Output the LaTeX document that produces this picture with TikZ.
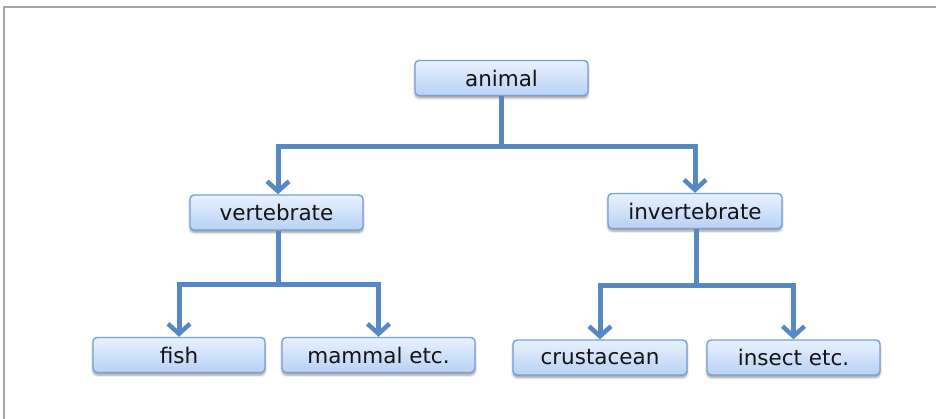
\documentclass[tikz,border=0pt]{standalone}
\usepackage{fontspec}
\setmainfont{DejaVu Sans}
\usetikzlibrary{arrows.meta,shadows.blur}
\definecolor{boxtop}{RGB}{232,242,254}
\definecolor{boxbot}{RGB}{184,209,244}
\definecolor{boxedge}{RGB}{118,160,216}
\definecolor{linkblue}{RGB}{86,137,196}
\definecolor{framegray}{RGB}{165,165,165}
\definecolor{labelink}{RGB}{20,20,20}
\tikzset{
  catbox/.style={rounded corners=4pt, draw=boxedge, line width=1.4pt,
    top color=boxtop, bottom color=boxbot, inner sep=0pt,
    minimum height=35pt, text=labelink,
    font=\fontsize{21.5}{26}\selectfont,
    blur shadow={shadow xshift=0pt, shadow yshift=-2.5pt, shadow blur steps=6, shadow opacity=40}},
  link/.style={draw=linkblue, line width=5pt},
  arrowlink/.style={link, -{Straight Barb[length=10pt,width=22pt,line width=4.5pt]}}
}
\begin{document}
\begin{tikzpicture}[x=1pt,y=-1pt]
\useasboundingbox (0,0) rectangle (936,419);
% frame edges
\draw[framegray, line width=1.6pt] (4,419) -- (4,7) -- (936,7);

% category boxes
\node[catbox, minimum width=173pt] (animal) at (501.5,78) {animal};
\node[catbox, minimum width=173pt] (vert) at (276.5,212.5) {vertebrate};
\node[catbox, minimum width=174pt] (invert) at (695,211) {invertebrate};
\node[catbox, minimum width=172pt] (fish) at (179,355) {fish};
\node[catbox, minimum width=193pt] (mammal) at (378.5,355) {mammal etc.};
\node[catbox, minimum width=174pt] (crust) at (600,357.5) {crustacean};
\node[catbox, minimum width=173pt] (insect) at (793.5,357.5) {insect etc.};

% branch points
\coordinate (jA) at (501.5,147);
\coordinate (jV) at (278,285);
\coordinate (jI) at (696,286);

% connectors
\draw[link] (animal.south) -- (jA);
\draw[arrowlink] (jA) -| ([xshift=1.5pt]vert.north);
\draw[arrowlink] (jA) -| (invert.north);
\draw[link] (vert.south -| jV) -- (jV);
\draw[arrowlink] (jV) -| (fish.north);
\draw[arrowlink] (jV) -| (mammal.north);
\draw[link] (invert.south -| jI) -- (jI);
\draw[arrowlink] (jI) -| (crust.north);
\draw[arrowlink] (jI) -| (insect.north);
\end{tikzpicture}
\end{document}
